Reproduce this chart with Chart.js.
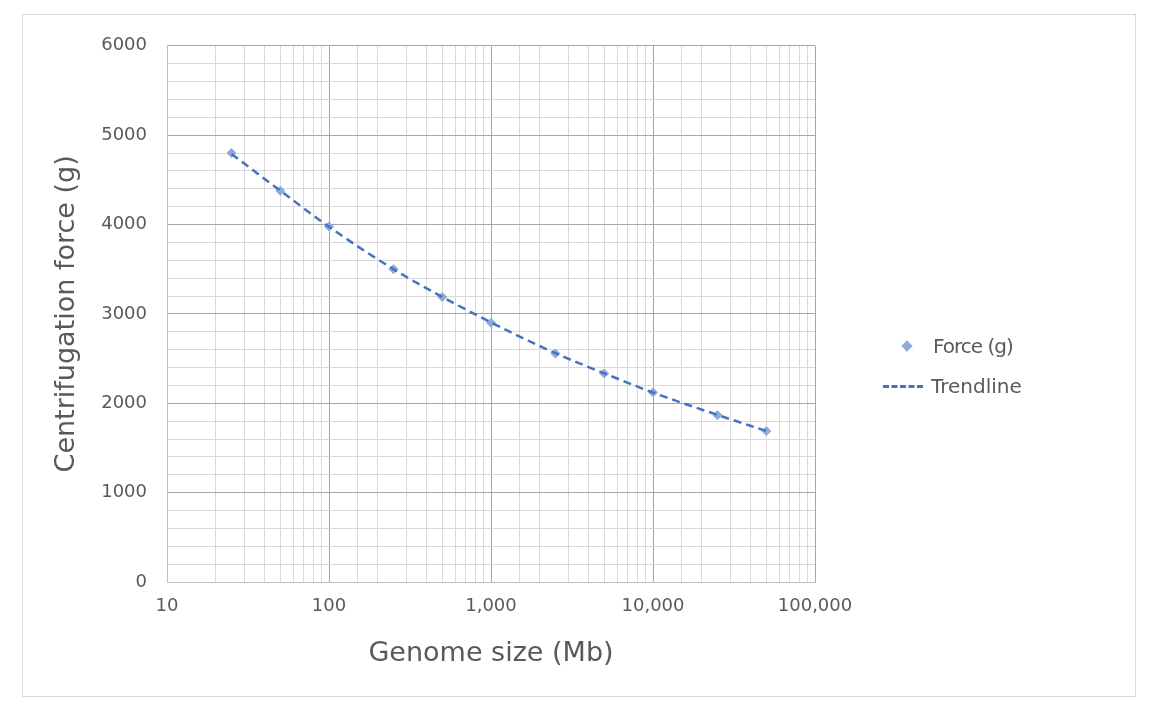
<!DOCTYPE html>
<html>
<head>
<meta charset="utf-8">
<script src="https://cdn.jsdelivr.net/npm/chart.js@4"></script>
<style>
body { margin: 0; background: #fff; font-family: "DejaVu Sans", sans-serif; }
#frame { position: absolute; left: 22px; top: 14px; width: 1112px; height: 681px; border: 1px solid #d9d9d9; }
#wrap { position: absolute; left: 0; top: 0; width: 1112px; height: 681px; }
#legend { position: absolute; left: 860px; top: 311px; font-size: 20px; color: #595959; }
#legend div { height: 40px; display: flex; align-items: center; }
.dia { width: 8px; height: 8px; background: #8faadc; transform: rotate(45deg); margin: 0 22px 0 20px; }
.dash { width: 40px; border-top: 3px dashed #4472c4; margin-right: 8px; }
</style>
</head>
<body>
<div id="frame">
  <div id="wrap"><canvas id="c"></canvas></div>
  <div id="legend">
    <div><span class="dia"></span><span style="letter-spacing:-1px">Force (g)</span></div>
    <div><span class="dash"></span><span>Trendline</span></div>
  </div>
</div>
<script>
var genomeSizes = [25, 50, 100, 250, 500, 1000, 2500, 5000, 10000, 25000, 50000],
	forces = [4800, 4378, 3978, 3500, 3189, 2900, 2556, 2333, 2122, 1867, 1689],
	trend = [4790, 4380, 3975, 3500, 3190, 2905, 2560, 2335, 2120, 1870, 1690];

function pts(ys) {
	return genomeSizes.map(function(x, i) { return { x: x, y: ys[i] }; });
}
function isDecade(v) {
	var l = Math.log10(v);
	return Math.abs(l - Math.round(l)) < 1e-9;
}

new Chart(document.getElementById('c'), {
	type: 'scatter',
	data: {
		datasets: [{
			label: 'Trendline',
			data: pts(trend),
			showLine: true,
			borderColor: '#4472c4',
			borderWidth: 2.5,
			borderDash: [8, 5],
			pointRadius: 0,
			cubicInterpolationMode: 'monotone'
		}, {
			label: 'Force (g)',
			data: pts(forces),
			pointStyle: 'rectRot',
			pointRadius: 4.5,
			backgroundColor: '#8faadc',
			borderColor: '#8faadc'
		}]
	},
	options: {
		responsive: true,
		maintainAspectRatio: false,
		animation: false,
		layout: { padding: { top: 26, right: 320, left: 24, bottom: 22 } },
		plugins: { legend: { display: false }, tooltip: { enabled: false } },
		scales: {
			x: {
				type: 'logarithmic',
				min: 10, max: 100000,
				afterFit: function(s) { s.height = 92; },
				border: { color: '#bfbfbf' },
				grid: {
					color: function(c) { return isDecade(c.tick.value) ? '#a6a6a6' : '#d9d9d9'; },
					tickLength: 0
				},
				ticks: {
					autoSkip: false, maxRotation: 0, padding: 14,
					color: '#595959', font: { family: 'DejaVu Sans', size: 18 },
					callback: function(v) { return isDecade(v) ? v.toLocaleString('en-US') : ''; }
				},
				title: { display: true, text: 'Genome size (Mb)', color: '#595959',
					font: { family: 'DejaVu Sans', size: 27 }, padding: { top: 8 } }
			},
			y: {
				min: 0, max: 6000,
				afterFit: function(s) { s.width = 120; },
				border: { color: '#bfbfbf' },
				grid: {
					color: function(c) { return c.tick.value % 1000 === 0 ? '#a6a6a6' : '#d9d9d9'; },
					tickLength: 0
				},
				ticks: {
					stepSize: 200, autoSkip: false, padding: 20,
					color: '#595959', font: { family: 'DejaVu Sans', size: 18 },
					callback: function(v) { return v % 1000 === 0 ? v : ''; }
				},
				title: { display: true, text: 'Centrifugation force (g)', color: '#595959',
					font: { family: 'DejaVu Sans', size: 27 }, padding: { bottom: 6 } }
			}
		}
	}
});
</script>
</body>
</html>
